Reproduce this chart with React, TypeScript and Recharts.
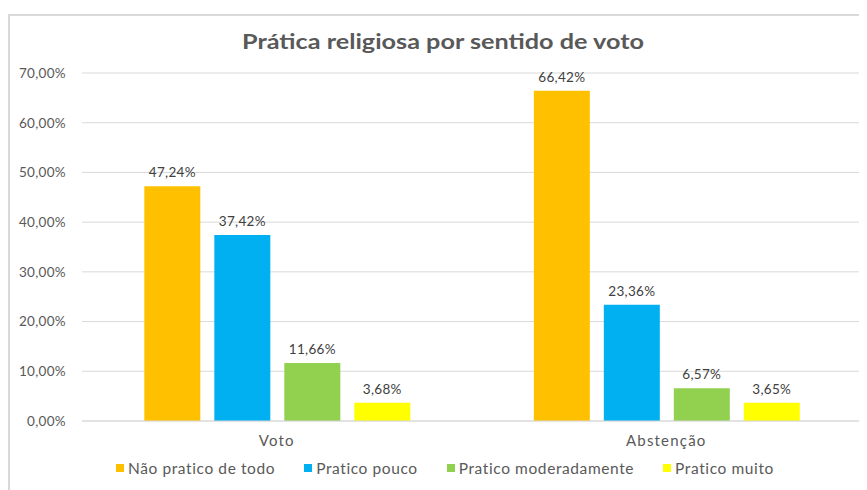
import { BarChart, Bar, XAxis, YAxis, CartesianGrid, LabelList } from "recharts";

const categories = ["Voto", "Abstenção"];
const naoPratico = [47.24, 66.42];
const praticoPouco = [37.42, 23.36];
const praticoModerado = [11.66, 6.57];
const praticoMuito = [3.68, 3.65];
const yTicks = [0, 10, 20, 30, 40, 50, 60, 70];

const series = [
  { key: "nao", name: "Não pratico de todo", values: naoPratico, color: "#FFC000" },
  { key: "pouco", name: "Pratico pouco", values: praticoPouco, color: "#00B0F0" },
  { key: "moderado", name: "Pratico moderadamente", values: praticoModerado, color: "#92D050" },
  { key: "muito", name: "Pratico muito", values: praticoMuito, color: "#FFFF00" },
];

const data = categories.map((c, i) => {
  const row: Record<string, string | number> = { category: c };
  series.forEach((s) => (row[s.key] = s.values[i]));
  return row;
});

const font = "Lato, 'Open Sans', sans-serif";
const textColor = "#595959";
const gridColor = "#d9d9d9";

const pct = (v: number) => `${v.toFixed(2).replace(".", ",")}%`;

export default function App() {
  return (
    <div style={{ position: "relative", width: 859, height: 482, overflow: "hidden", fontFamily: font }}>
      <div
        style={{
          position: "absolute",
          left: 0,
          top: 6,
          width: 900,
          height: 600,
          border: `2px solid ${gridColor}`,
          boxSizing: "border-box",
        }}
      />
      <svg style={{ position: "absolute", left: 0, top: 0 }} width={859} height={60}>
        <text
          x={435}
          y={41}
          textAnchor="middle"
          fontFamily={font}
          fontWeight={700}
          fontSize={21}
          fill={textColor}
          textLength={402}
          lengthAdjust="spacingAndGlyphs"
        >
          Prática religiosa por sentido de voto
        </text>
      </svg>
      <div style={{ position: "absolute", left: 0, top: 0 }}>
        <BarChart
          width={859}
          height={482}
          data={data}
          margin={{ top: 65, right: 6, left: 0, bottom: 39 }}
          barCategoryGap="16%"
          barGap={14}
        >
          <CartesianGrid vertical={false} stroke={gridColor} strokeWidth={1} />
          <XAxis
            dataKey="category"
            height={30}
            axisLine={{ stroke: gridColor }}
            tickLine={false}
            tickSize={6}
            tickMargin={8}
            tick={{ fontSize: 15, fill: textColor, fontFamily: font, letterSpacing: 1.2 }}
          />
          <YAxis
            width={74}
            domain={[0, 70]}
            ticks={yTicks}
            axisLine={false}
            tickLine={false}
            tickSize={6}
            tickMargin={10}
            tickFormatter={(v: number) => pct(v)}
            tick={{ fontSize: 13.5, fill: textColor, fontFamily: font, letterSpacing: 0.3 }}
          />
          {series.map((s) => (
            <Bar key={s.key} dataKey={s.key} name={s.name} fill={s.color} isAnimationActive={false}>
              <LabelList
                dataKey={s.key}
                position="top"
                offset={9}
                formatter={(v: number) => pct(v)}
                style={{ fontSize: 13.5, fill: "#404040", fontFamily: font, letterSpacing: 0.3 }}
              />
            </Bar>
          ))}
        </BarChart>
      </div>
      <div
        style={{
          position: "absolute",
          left: 108,
          top: 451,
          display: "flex",
          alignItems: "center",
          gap: 29,
          fontSize: 15.5,
          letterSpacing: 0.6,
          color: textColor,
          whiteSpace: "nowrap",
        }}
      >
        {series.map((s) => (
          <div key={s.key} style={{ display: "flex", alignItems: "center" }}>
            <span style={{ width: 8, height: 8, background: s.color, marginRight: 4, display: "inline-block" }} />
            <span>{s.name}</span>
          </div>
        ))}
      </div>
    </div>
  );
}
